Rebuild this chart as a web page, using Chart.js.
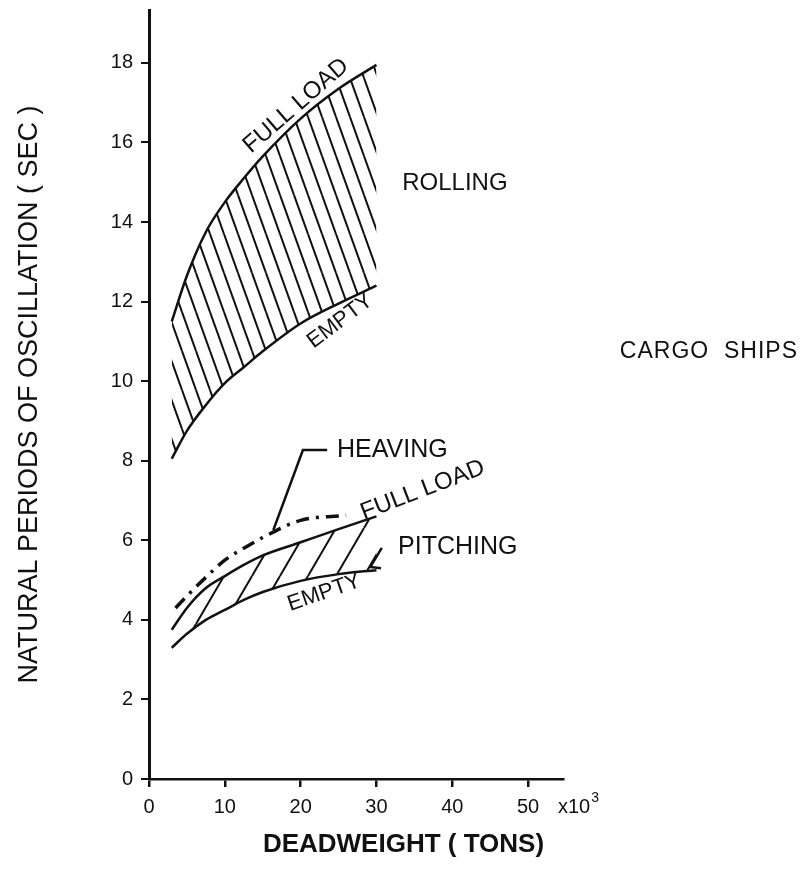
<!DOCTYPE html>
<html>
<head>
<meta charset="utf-8">
<style>
  html, body { margin: 0; padding: 0; background: #ffffff; }
  #wrap { width: 807px; height: 875px; }
</style>
<script src="https://cdn.jsdelivr.net/npm/chart.js@4.4.1/dist/chart.umd.min.js"></script>
</head>
<body>
<div id="wrap"><canvas id="c" width="807" height="875"></canvas></div>
<script>
// ---- data ----
const xTickValues = [0, 10, 20, 30, 40, 50];
const yTickValues = [0, 2, 4, 6, 8, 10, 12, 14, 16, 18];

const rollX      = [3, 5, 7.5, 10, 12.5, 15, 20, 25, 30];
const rollFull   = [11.5, 12.65, 13.75, 14.5, 15.1, 15.65, 16.6, 17.35, 17.95];
const rollEmpty  = [8.05, 8.75, 9.4, 9.95, 10.35, 10.75, 11.45, 11.95, 12.4];

const pitchX     = [3, 5, 7.5, 10, 12.5, 15, 20, 25, 30];
const pitchFull  = [3.75, 4.3, 4.8, 5.1, 5.38, 5.62, 5.95, 6.28, 6.6];
const pitchEmpty = [3.3, 3.65, 4.0, 4.25, 4.5, 4.7, 4.98, 5.15, 5.25];

const heaveX     = [3.5, 5, 7.5, 10, 12.5, 15, 20, 26];
const heave      = [4.3, 4.6, 5.07, 5.5, 5.8, 6.07, 6.5, 6.63];

const heaveLeaderX = [23.5, 20.3, 16.4];
const heaveLeaderY = [8.27, 8.27, 6.26];
const pitchLeaderX = [30.7, 29.2, 30.6];
const pitchLeaderY = [5.81, 5.33, 5.3];

// label texts and anchor values (data units)
const labels = [
  { text: 'FULL LOAD', x: 19.4, y: 16.92, angle: -41, align: 'center', size: 24 },
  { text: 'EMPTY',     x: 25.2, y: 11.51, angle: -37, align: 'center', size: 22 },
  { text: 'ROLLING',   x: 33.4, y: 14.96, angle: 0,   align: 'left',   size: 24 },
  { text: 'CARGO  SHIPS', x: 62.1, y: 10.73, angle: 0, align: 'left',  size: 23, spacing: 1 },
  { text: 'HEAVING',   x: 24.8, y: 8.27,  angle: 0,   align: 'left',   size: 25 },
  { text: 'FULL LOAD', x: 36.1, y: 7.26,  angle: -21, align: 'center', size: 24 },
  { text: 'PITCHING',  x: 32.85, y: 5.83, angle: 0,   align: 'left',   size: 25 },
  { text: 'EMPTY',     x: 23.1, y: 4.68,  angle: -19, align: 'center', size: 22 }
];

const INK = '#111111';
const FONT = '"Liberation Sans", Arial, sans-serif';

function zip(xs, ys) { return xs.map((x, i) => ({ x: x, y: ys[i] })); }

// hatch patterns
function hatch(s, h, back) {
  const c = document.createElement('canvas');
  c.width = s; c.height = h;
  const g = c.getContext('2d');
  g.strokeStyle = INK; g.lineWidth = 2;
  g.beginPath();
  for (const o of [-s, 0, s]) {
    if (back) { g.moveTo(o, 0); g.lineTo(o + s, h); }
    else { g.moveTo(o, h); g.lineTo(o + s, 0); }
  }
  g.stroke();
  return g.createPattern(c, 'repeat');
}
const rollPattern = hatch(14, 39, true);
const pitchPattern = hatch(28, 48, false);

const textPlugin = {
  id: 'textLabels',
  afterDatasetsDraw(chart) {
    const ctx = chart.ctx, xs = chart.scales.x, ys = chart.scales.y;
    ctx.save();
    ctx.fillStyle = INK;
    ctx.textBaseline = 'middle';
    for (const l of labels) {
      const px = xs.getPixelForValue(l.x), py = ys.getPixelForValue(l.y);
      ctx.save();
      ctx.translate(px, py);
      ctx.rotate(l.angle * Math.PI / 180);
      ctx.font = l.size + 'px ' + FONT;
      if ('letterSpacing' in ctx) ctx.letterSpacing = (l.spacing || 0) + 'px';
      ctx.textAlign = l.align;
      ctx.fillText(l.text, 0, 0);
      ctx.restore();
    }
    // x axis multiplier
    const mx = xs.right - 5, my = ys.bottom + 28;
    ctx.font = '20px ' + FONT;
    ctx.textAlign = 'left';
    ctx.fillText('x10', mx, my);
    const w = ctx.measureText('x10').width;
    ctx.font = '14px ' + FONT;
    ctx.fillText('3', mx + w + 1, my - 9);
    // x axis title, centred on the page
    ctx.font = 'bold 26px ' + FONT;
    ctx.textAlign = 'center';
    ctx.fillText('DEADWEIGHT ( TONS)', chart.width / 2, 845);
    ctx.restore();
  }
};

const lineBase = { pointRadius: 0, borderColor: INK, cubicInterpolationMode: 'monotone', fill: false };

new Chart(document.getElementById('c'), {
  type: 'line',
  data: {
    datasets: [
      Object.assign({}, lineBase, { label: 'Rolling full load', data: zip(rollX, rollFull), borderWidth: 2.5, fill: '+1', backgroundColor: rollPattern }),
      Object.assign({}, lineBase, { label: 'Rolling empty', data: zip(rollX, rollEmpty), borderWidth: 2.5 }),
      Object.assign({}, lineBase, { label: 'Pitching full load', data: zip(pitchX, pitchFull), borderWidth: 2.5, fill: '+1', backgroundColor: pitchPattern }),
      Object.assign({}, lineBase, { label: 'Pitching empty', data: zip(pitchX, pitchEmpty), borderWidth: 2.5 }),
      Object.assign({}, lineBase, { label: 'Heaving', data: zip(heaveX, heave), borderWidth: 3.5, borderDash: [13, 7, 3, 7] }),
      Object.assign({}, lineBase, { label: 'Heaving leader', data: zip(heaveLeaderX, heaveLeaderY), borderWidth: 2.5, cubicInterpolationMode: 'default', tension: 0 }),
      Object.assign({}, lineBase, { label: 'Pitching leader', data: zip(pitchLeaderX, pitchLeaderY), borderWidth: 2.5, cubicInterpolationMode: 'default', tension: 0 })
    ]
  },
  options: {
    responsive: false,
    animation: false,
    layout: { padding: { top: 10, right: 244, bottom: 0, left: 0 } },
    plugins: { legend: { display: false }, tooltip: { enabled: false } },
    scales: {
      x: {
        type: 'linear', min: 0, max: 54.6,
        afterBuildTicks: s => { s.ticks = xTickValues.map(v => ({ value: v })); },
        afterFit: s => { s.height = 96; s.paddingLeft = 0; s.paddingRight = 0; },
        ticks: { color: INK, font: { family: FONT, size: 20 }, padding: 8, maxRotation: 0, autoSkip: false },
        grid: { drawOnChartArea: false, drawTicks: true, tickLength: 8, tickColor: INK, lineWidth: 2.5 },
        border: { display: true, color: INK, width: 2.5 }
      },
      y: {
        type: 'linear', min: 0, max: 19.33,
        afterBuildTicks: s => { s.ticks = yTickValues.map(v => ({ value: v })); },
        afterFit: s => { s.width = 149; s.paddingTop = 0; s.paddingBottom = 0; },
        ticks: { color: INK, font: { family: FONT, size: 20 }, padding: 8, autoSkip: false },
        grid: { drawOnChartArea: false, drawTicks: true, tickLength: 8, tickColor: INK, lineWidth: 2 },
        border: { display: true, color: INK, width: 3 },
        title: { display: true, text: 'NATURAL PERIODS OF OSCILLATION ( SEC )', color: INK, font: { family: FONT, size: 27 }, padding: { top: 13, bottom: 0 } }
      }
    }
  },
  plugins: [textPlugin]
});
</script>
</body>
</html>
